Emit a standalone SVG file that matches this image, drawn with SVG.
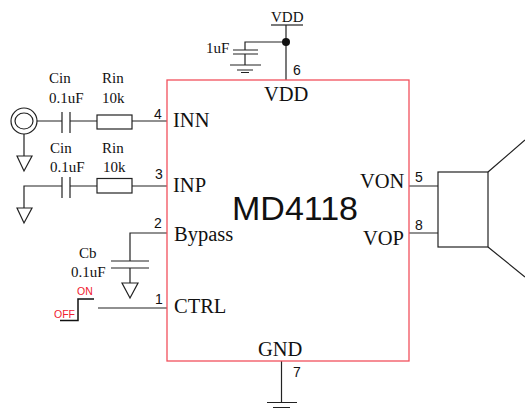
<svg xmlns="http://www.w3.org/2000/svg" width="525" height="409" viewBox="0 0 525 409">
<style>
.w{fill:none;stroke:#222;stroke-width:1.2}
.t{font-family:"Liberation Serif",serif;fill:#111}
.s{font-size:15px}
.p{font-size:20.5px}
.n{font-family:"Liberation Sans",sans-serif;font-size:14px;fill:#111}
.r{font-family:"Liberation Sans",sans-serif;font-size:10.5px;fill:#f02030}
</style>
<rect width="525" height="409" fill="#fff"/>
<g id="connectors">
<path class="w" d="M37 121H62M70 121H97M132 121H167"/>
<path class="w" d="M24 134V156M24 208V186H62M70 186H97M132 186H167"/>
<path class="w" d="M167 233H130V261M130 268V283"/>
<path class="w" d="M98 308H167"/>
<path class="w" d="M286 25V80M286 42H245V50M245 54V65"/>
<path class="w" d="M281.500 361V402"/>
<path class="w" d="M409 186H438M409 233H438"/>
</g>
<g id="chip">
<rect x="167" y="80" width="242" height="281" fill="none" stroke="#f2505c" stroke-width="1.3"/>
<text class="t p" x="264" y="101">VDD</text>
<text class="t p" x="258" y="356">GND</text>
<text class="t p" x="173" y="127">INN</text>
<text class="t p" x="173" y="192">INP</text>
<text class="t p" x="174" y="241">Bypass</text>
<text class="t p" x="174" y="313">CTRL</text>
<text class="t p" x="360" y="188">VON</text>
<text class="t p" x="363" y="245">VOP</text>
<text x="232" y="220" font-family="Liberation Sans,sans-serif" font-size="34" fill="#111">MD4118</text>
</g>
<g id="pins">
<text class="n" x="154" y="119">4</text>
<text class="n" x="155" y="179">3</text>
<text class="n" x="154" y="228">2</text>
<text class="n" x="155" y="304">1</text>
<text class="n" x="293" y="75">6</text>
<text class="n" x="293" y="377">7</text>
<text class="n" x="415" y="182">5</text>
<text class="n" x="415" y="230">8</text>
</g>
<g id="input-inn">
<circle cx="24" cy="121" r="13" fill="none" stroke="#222" stroke-width="1.2"/>
<ellipse cx="24" cy="121" rx="9" ry="8" fill="none" stroke="#222" stroke-width="1.2"/>
<path class="w" d="M17 156H32L24 171Z"/>
<path class="w" d="M62 112V133M70 112V133"/>
<rect class="w" x="97" y="115" width="35" height="14"/>
<text class="t s" x="49" y="83">Cin</text>
<text class="t s" x="49" y="103">0.1uF</text>
<text class="t s" x="102" y="83">Rin</text>
<text class="t s" x="102" y="103">10k</text>
</g>
<g id="input-inp">
<path class="w" d="M17 208H32L24 223Z"/>
<path class="w" d="M62 177V198M70 177V198"/>
<rect class="w" x="97" y="178.500" width="35" height="14.500"/>
<text class="t s" x="50" y="153">Cin</text>
<text class="t s" x="50" y="172">0.1uF</text>
<text class="t s" x="102" y="153">Rin</text>
<text class="t s" x="103" y="172">10k</text>
</g>
<g id="bypass-cap">
<path class="w" d="M111 261H149M111 268H149"/>
<path class="w" d="M122 283H138L130 298Z"/>
<text class="t s" x="79" y="258">Cb</text>
<text class="t s" x="71" y="277">0.1uF</text>
</g>
<g id="switch">
<path d="M60 320.500H78V299H94" fill="none" stroke="#111" stroke-width="1.5"/>
<text class="r" x="77" y="295">ON</text>
<text class="r" x="54" y="318">OFF</text>
</g>
<g id="vdd">
<path class="w" d="M271 25H303"/>
<text class="t s" x="271" y="22">VDD</text>
<circle cx="286" cy="42" r="4" fill="#111"/>
<path class="w" d="M233 50H258M233 54H258M230 65H261M237 70H253M241 72.500H249"/>
<text class="t s" x="206" y="53">1uF</text>
</g>
<g id="gnd">
<path class="w" d="M267 402.500H297M273 407.500H290"/>
</g>
<g id="speaker">
<rect class="w" x="438" y="172" width="50" height="75"/>
<path class="w" d="M488 172L525 140M488 247L525 277"/>
</g>
</svg>
